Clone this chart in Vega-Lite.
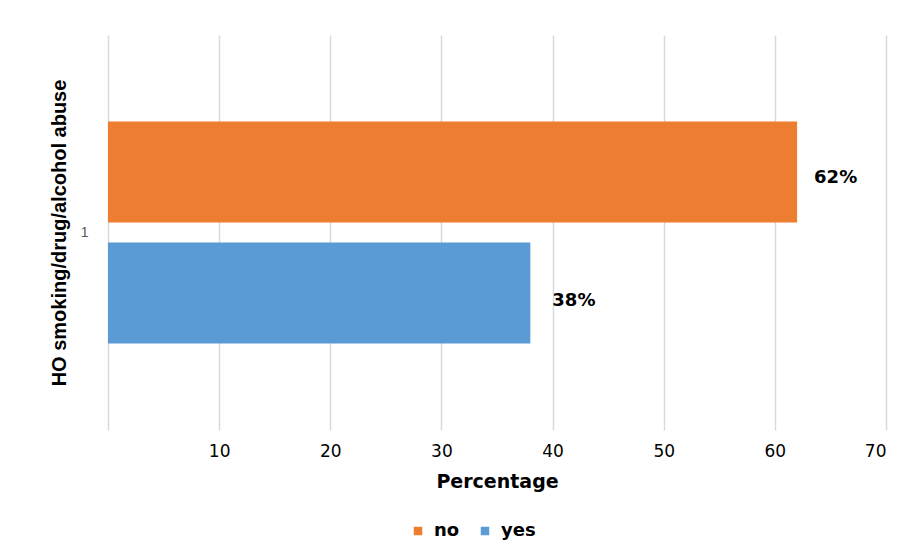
{
  "$schema": "https://vega.github.io/schema/vega-lite/v6.json",
  "width": 778,
  "height": 395,
  "autosize": {"type": "none"},
  "padding": {"left": 108, "top": 35, "right": 32, "bottom": 124},
  "background": "white",
  "config": {
    "view": {"stroke": null},
    "font": "DejaVu Sans",
    "axis": {"gridColor": "#d9d9d9", "gridWidth": 1.5}
  },
  "data": {
    "values": [
      {"category": "1", "answer": "no", "value": 62, "label": "62%"},
      {"category": "1", "answer": "yes", "value": 38, "label": "38%"}
    ]
  },
  "encoding": {
    "y": {
      "field": "category",
      "type": "nominal",
      "scale": {"paddingInner": 0, "paddingOuter": 0.39},
      "axis": {
        "title": "HO smoking/drug/alcohol abuse",
        "titleFont": "Liberation Sans",
        "titleFontSize": 20,
        "titleFontWeight": "bold",
        "titleColor": "#000000",
        "titlePadding": 11,
        "labelAngle": 0,
        "labelFont": "Liberation Sans",
        "labelFontSize": 14,
        "labelColor": "#595959",
        "labelPadding": 20,
        "domain": false,
        "ticks": false,
        "grid": false
      }
    },
    "yOffset": {
      "field": "answer",
      "type": "nominal",
      "sort": ["no", "yes"],
      "scale": {"paddingInner": 0.167, "paddingOuter": 0}
    },
    "x": {
      "field": "value",
      "type": "quantitative",
      "scale": {"domain": [0, 70], "nice": false},
      "axis": {
        "title": "Percentage",
        "titleFontSize": 19,
        "titleFontWeight": "bold",
        "titleColor": "#000000",
        "titlePadding": 13,
        "values": [0, 10, 20, 30, 40, 50, 60, 70],
        "labelExpr": "datum.value == 0 ? '' : datum.label",
        "labelFontSize": 17,
        "labelColor": "#000000",
        "labelPadding": 13,
        "domain": false,
        "ticks": false,
        "grid": true
      }
    }
  },
  "layer": [
    {
      "mark": {"type": "bar"},
      "encoding": {
        "color": {
          "field": "answer",
          "type": "nominal",
          "scale": {"domain": ["no", "yes"], "range": ["#ED7D31", "#5B9BD5"]},
          "legend": {
            "title": null,
            "orient": "none",
            "direction": "horizontal",
            "legendX": 301,
            "legendY": 487,
            "symbolType": "square",
            "symbolSize": 72,
            "symbolStrokeWidth": 0,
            "labelFontSize": 18,
            "labelFontWeight": "bold",
            "labelColor": "#000000",
            "columnPadding": 16,
            "labelOffset": 7
          }
        }
      }
    },
    {
      "transform": [{"filter": "datum.answer == 'no'"}],
      "mark": {"type": "text", "align": "left", "dx": 17, "dy": 6, "fontSize": 18, "fontWeight": "bold", "color": "#000000"},
      "encoding": {"text": {"field": "label"}}
    },
    {
      "transform": [{"filter": "datum.answer == 'yes'"}],
      "mark": {"type": "text", "align": "left", "dx": 22, "dy": 8, "fontSize": 18, "fontWeight": "bold", "color": "#000000"},
      "encoding": {"text": {"field": "label"}}
    }
  ]
}
